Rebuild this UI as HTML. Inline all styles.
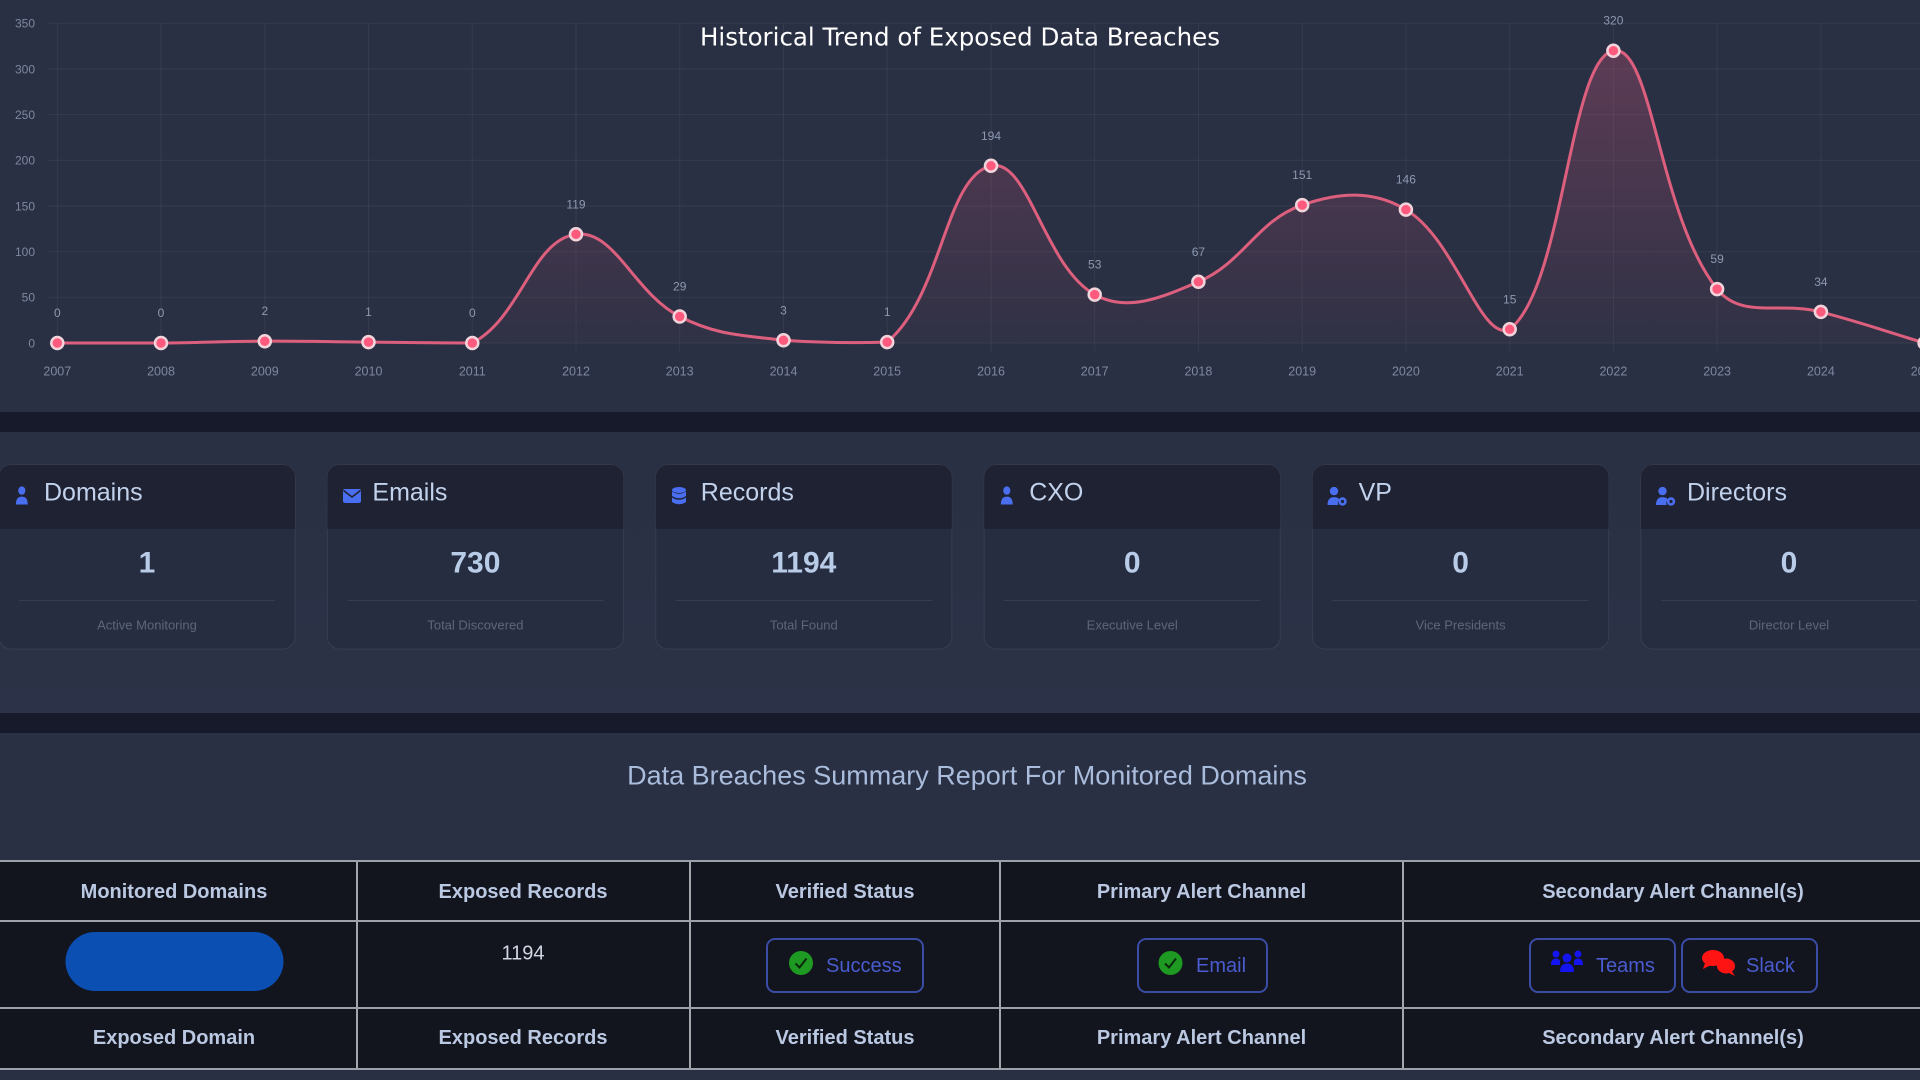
<!DOCTYPE html>
<html>
<head>
<meta charset="utf-8">
<style>
html,body{margin:0;padding:0;width:1920px;height:1080px;overflow:hidden;background:#2a3043;}
svg{display:block;}
text{font-family:"Liberation Sans",Arial,sans-serif;}
</style>
</head>
<body>
<svg width="1920" height="1080" viewBox="0 0 1920 1080" xmlns="http://www.w3.org/2000/svg">
<defs>
<linearGradient id="fillg" x1="0" y1="23" x2="0" y2="343" gradientUnits="userSpaceOnUse">
<stop offset="0" stop-color="#e05a84" stop-opacity="0.30"/>
<stop offset="1" stop-color="#e05a84" stop-opacity="0.03"/>
</linearGradient>
<linearGradient id="secg" x1="0" y1="432" x2="0" y2="713" gradientUnits="userSpaceOnUse">
<stop offset="0" stop-color="#2a3043"/>
<stop offset="1" stop-color="#2c3247"/>
</linearGradient>
<g id="user"><circle cx="8" cy="4.6" r="4.2"/><path d="M1 18.5 C1 12.8 3.8 10.6 8 10.6 C12.2 10.6 15 12.8 15 18.5 Z"/></g>
<g id="usercog"><circle cx="7" cy="4.6" r="4.2"/><path d="M0.5 18.5 C0.5 12.8 3.2 10.6 7 10.6 C9.5 10.6 11.3 11.3 12.3 12.8 C11 13.8 10.5 16 11.2 18.5 Z"/><circle cx="15.5" cy="15" r="4.2"/><circle cx="15.5" cy="15" r="1.6" fill="#1e2232"/></g>
</defs>

<!-- Chart section -->
<rect x="0" y="0" width="1920" height="412" fill="#2a3043"/>
<g stroke="#ffffff" stroke-opacity="0.055" stroke-width="1">
<line x1="47" y1="343" x2="1920" y2="343"/>
<line x1="47" y1="297.3" x2="1920" y2="297.3"/>
<line x1="47" y1="251.7" x2="1920" y2="251.7"/>
<line x1="47" y1="206" x2="1920" y2="206"/>
<line x1="47" y1="160.3" x2="1920" y2="160.3"/>
<line x1="47" y1="114.6" x2="1920" y2="114.6"/>
<line x1="47" y1="69" x2="1920" y2="69"/>
<line x1="47" y1="23.3" x2="1920" y2="23.3"/>
<line x1="57.3" y1="23.3" x2="57.3" y2="351"/>
<line x1="161" y1="23.3" x2="161" y2="351"/>
<line x1="264.8" y1="23.3" x2="264.8" y2="351"/>
<line x1="368.5" y1="23.3" x2="368.5" y2="351"/>
<line x1="472.3" y1="23.3" x2="472.3" y2="351"/>
<line x1="576" y1="23.3" x2="576" y2="351"/>
<line x1="679.7" y1="23.3" x2="679.7" y2="351"/>
<line x1="783.5" y1="23.3" x2="783.5" y2="351"/>
<line x1="887.2" y1="23.3" x2="887.2" y2="351"/>
<line x1="991" y1="23.3" x2="991" y2="351"/>
<line x1="1094.7" y1="23.3" x2="1094.7" y2="351"/>
<line x1="1198.4" y1="23.3" x2="1198.4" y2="351"/>
<line x1="1302.2" y1="23.3" x2="1302.2" y2="351"/>
<line x1="1405.9" y1="23.3" x2="1405.9" y2="351"/>
<line x1="1509.7" y1="23.3" x2="1509.7" y2="351"/>
<line x1="1613.4" y1="23.3" x2="1613.4" y2="351"/>
<line x1="1717.1" y1="23.3" x2="1717.1" y2="351"/>
<line x1="1820.9" y1="23.3" x2="1820.9" y2="351"/>
</g>
<g font-size="12" fill="#7d88a1" text-anchor="end">
<text x="35" y="347.3">0</text>
<text x="35" y="301.6">50</text>
<text x="35" y="256">100</text>
<text x="35" y="210.3">150</text>
<text x="35" y="164.6">200</text>
<text x="35" y="118.9">250</text>
<text x="35" y="73.3">300</text>
<text x="35" y="27.6">350</text>
</g>
<g font-size="12.5" fill="#7d88a1" text-anchor="middle">
<text x="57.3" y="375.5">2007</text>
<text x="161" y="375.5">2008</text>
<text x="264.8" y="375.5">2009</text>
<text x="368.5" y="375.5">2010</text>
<text x="472.3" y="375.5">2011</text>
<text x="576" y="375.5">2012</text>
<text x="679.7" y="375.5">2013</text>
<text x="783.5" y="375.5">2014</text>
<text x="887.2" y="375.5">2015</text>
<text x="991" y="375.5">2016</text>
<text x="1094.7" y="375.5">2017</text>
<text x="1198.4" y="375.5">2018</text>
<text x="1302.2" y="375.5">2019</text>
<text x="1405.9" y="375.5">2020</text>
<text x="1509.7" y="375.5">2021</text>
<text x="1613.4" y="375.5">2022</text>
<text x="1717.1" y="375.5">2023</text>
<text x="1820.9" y="375.5">2024</text>
<text x="1924.6" y="375.5">2025</text>
</g>

<path id="ar" d="M57.3,343 L161,343 L264.8,341.2 L368.5,342.1 L472.3,343 L576,234.3 L679.7,316.5 L783.5,340.3 L887.2,342.1 L991,165.8 L1094.7,294.6 L1198.4,281.8 L1302.2,205.1 L1405.9,209.6 L1509.7,329.3 L1613.4,50.7 L1717.1,289.1 L1820.9,311.9 L1924.6,343 Z" fill="url(#fillg)"/>
<path id="ln" d="M57.3,343 L161,343 L264.8,341.2 L368.5,342.1 L472.3,343 L576,234.3 L679.7,316.5 L783.5,340.3 L887.2,342.1 L991,165.8 L1094.7,294.6 L1198.4,281.8 L1302.2,205.1 L1405.9,209.6 L1509.7,329.3 L1613.4,50.7 L1717.1,289.1 L1820.9,311.9 L1924.6,343" fill="none" stroke="#dc5f7e" stroke-width="3"/>

<g fill="#ff5a7e" stroke="#f2d5dc" stroke-width="2.5">
<circle cx="57.3" cy="343" r="6"/>
<circle cx="161" cy="343" r="6"/>
<circle cx="264.8" cy="341.2" r="6"/>
<circle cx="368.5" cy="342.1" r="6"/>
<circle cx="472.3" cy="343" r="6"/>
<circle cx="576" cy="234.3" r="6"/>
<circle cx="679.7" cy="316.5" r="6"/>
<circle cx="783.5" cy="340.3" r="6"/>
<circle cx="887.2" cy="342.1" r="6"/>
<circle cx="991" cy="165.8" r="6"/>
<circle cx="1094.7" cy="294.6" r="6"/>
<circle cx="1198.4" cy="281.8" r="6"/>
<circle cx="1302.2" cy="205.1" r="6"/>
<circle cx="1405.9" cy="209.6" r="6"/>
<circle cx="1509.7" cy="329.3" r="6"/>
<circle cx="1613.4" cy="50.7" r="6"/>
<circle cx="1717.1" cy="289.1" r="6"/>
<circle cx="1820.9" cy="311.9" r="6"/>
<circle cx="1924.6" cy="343" r="6"/>
</g>
<g font-size="12" fill="#8d99b2" text-anchor="middle">
<text x="57.3" y="317">0</text>
<text x="161" y="317">0</text>
<text x="264.8" y="315.2">2</text>
<text x="368.5" y="316.1">1</text>
<text x="472.3" y="317">0</text>
<text x="576" y="208.3">119</text>
<text x="679.7" y="290.5">29</text>
<text x="783.5" y="314.3">3</text>
<text x="887.2" y="316.1">1</text>
<text x="991" y="139.8">194</text>
<text x="1094.7" y="268.6">53</text>
<text x="1198.4" y="255.8">67</text>
<text x="1302.2" y="179.1">151</text>
<text x="1405.9" y="183.6">146</text>
<text x="1509.7" y="303.3">15</text>
<text x="1613.4" y="24.7">320</text>
<text x="1717.1" y="263.1">59</text>
<text x="1820.9" y="285.9">34</text>
<text x="1924.6" y="317">0</text>
</g>
<text x="960" y="45.5" font-size="24.5" fill="#ffffff" text-anchor="middle" style="font-family:'DejaVu Sans','Liberation Sans',sans-serif">Historical Trend of Exposed Data Breaches</text>

<!-- dark band -->
<rect x="0" y="412" width="1920" height="20" fill="#161a2b"/>

<!-- Cards section -->
<rect x="0" y="432" width="1920" height="281" fill="url(#secg)"/>

<!-- Card 1 Domains -->
<g>
<rect x="-1" y="465" width="296" height="184" rx="12" fill="#272d40" stroke="#ffffff" stroke-opacity="0.07"/>
<rect x="-1" y="465" width="296" height="64" rx="12" fill="#1e2232"/>
<rect x="-1" y="515" width="296" height="14" fill="#1e2232"/>
<use href="#user" transform="translate(15,486) scale(0.85,1)" fill="#4a6ef0"/>
<text x="44" y="500.5" font-size="25" fill="#c3d2ec">Domains</text>
<text x="147" y="572.7" font-size="30" font-weight="bold" fill="#b8cce8" text-anchor="middle">1</text>
<line x1="19" y1="600.5" x2="275" y2="600.5" stroke="#ffffff" stroke-opacity="0.08"/>
<text x="147" y="629.6" font-size="13" fill="#5c667c" text-anchor="middle">Active Monitoring</text>
</g>
<!-- Card 2 Emails -->
<g>
<rect x="327.4" y="465" width="296" height="184" rx="12" fill="#272d40" stroke="#ffffff" stroke-opacity="0.07"/>
<rect x="327.4" y="465" width="296" height="64" rx="12" fill="#1e2232"/>
<rect x="327.4" y="515" width="296" height="14" fill="#1e2232"/>
<g transform="translate(343,489)">
<rect x="0" y="0" width="18" height="14" rx="2" fill="#4a6ef0"/>
<polyline points="0.5,1.5 9,8 17.5,1.5" fill="none" stroke="#1e2232" stroke-width="1.6"/>
</g>
<text x="372.4" y="500.5" font-size="25" fill="#c3d2ec">Emails</text>
<text x="475.4" y="572.7" font-size="30" font-weight="bold" fill="#b8cce8" text-anchor="middle">730</text>
<line x1="347.4" y1="600.5" x2="603.4" y2="600.5" stroke="#ffffff" stroke-opacity="0.08"/>
<text x="475.4" y="629.6" font-size="13" fill="#5c667c" text-anchor="middle">Total Discovered</text>
</g>
<!-- Card 3 Records -->
<g>
<rect x="655.8" y="465" width="296" height="184" rx="12" fill="#272d40" stroke="#ffffff" stroke-opacity="0.07"/>
<rect x="655.8" y="465" width="296" height="64" rx="12" fill="#1e2232"/>
<rect x="655.8" y="515" width="296" height="14" fill="#1e2232"/>
<g transform="translate(672,487)" fill="#4a6ef0">
<ellipse cx="7" cy="3" rx="7" ry="3"/>
<path d="M0 4.5 Q7 9 14 4.5 V9 Q7 13.5 0 9 Z"/>
<path d="M0 10.5 Q7 15 14 10.5 V15 Q7 19.5 0 15 Z"/>
</g>
<text x="700.8" y="500.5" font-size="25" fill="#c3d2ec">Records</text>
<text x="803.8" y="572.7" font-size="30" font-weight="bold" fill="#b8cce8" text-anchor="middle">1194</text>
<line x1="675.8" y1="600.5" x2="931.8" y2="600.5" stroke="#ffffff" stroke-opacity="0.08"/>
<text x="803.8" y="629.6" font-size="13" fill="#5c667c" text-anchor="middle">Total Found</text>
</g>
<!-- Card 4 CXO -->
<g>
<rect x="984.2" y="465" width="296" height="184" rx="12" fill="#272d40" stroke="#ffffff" stroke-opacity="0.07"/>
<rect x="984.2" y="465" width="296" height="64" rx="12" fill="#1e2232"/>
<rect x="984.2" y="515" width="296" height="14" fill="#1e2232"/>
<use href="#user" transform="translate(1000,486) scale(0.85,1)" fill="#4a6ef0"/>
<text x="1029.2" y="500.5" font-size="25" fill="#c3d2ec">CXO</text>
<text x="1132.2" y="572.7" font-size="30" font-weight="bold" fill="#b8cce8" text-anchor="middle">0</text>
<line x1="1004.2" y1="600.5" x2="1260.2" y2="600.5" stroke="#ffffff" stroke-opacity="0.08"/>
<text x="1132.2" y="629.6" font-size="13" fill="#5c667c" text-anchor="middle">Executive Level</text>
</g>
<!-- Card 5 VP -->
<g>
<rect x="1312.6" y="465" width="296" height="184" rx="12" fill="#272d40" stroke="#ffffff" stroke-opacity="0.07"/>
<rect x="1312.6" y="465" width="296" height="64" rx="12" fill="#1e2232"/>
<rect x="1312.6" y="515" width="296" height="14" fill="#1e2232"/>
<use href="#usercog" transform="translate(1327,486.5)" fill="#4a6ef0"/>
<text x="1358.6" y="500.5" font-size="25" fill="#c3d2ec">VP</text>
<text x="1460.6" y="572.7" font-size="30" font-weight="bold" fill="#b8cce8" text-anchor="middle">0</text>
<line x1="1332.6" y1="600.5" x2="1588.6" y2="600.5" stroke="#ffffff" stroke-opacity="0.08"/>
<text x="1460.6" y="629.6" font-size="13" fill="#5c667c" text-anchor="middle">Vice Presidents</text>
</g>
<!-- Card 6 Directors -->
<g>
<rect x="1641" y="465" width="296" height="184" rx="12" fill="#272d40" stroke="#ffffff" stroke-opacity="0.07"/>
<rect x="1641" y="465" width="296" height="64" rx="12" fill="#1e2232"/>
<rect x="1641" y="515" width="296" height="14" fill="#1e2232"/>
<use href="#usercog" transform="translate(1655.5,486.5)" fill="#4a6ef0"/>
<text x="1687" y="500.5" font-size="25" fill="#c3d2ec">Directors</text>
<text x="1789" y="572.7" font-size="30" font-weight="bold" fill="#b8cce8" text-anchor="middle">0</text>
<line x1="1661" y1="600.5" x2="1917" y2="600.5" stroke="#ffffff" stroke-opacity="0.08"/>
<text x="1789" y="629.6" font-size="13" fill="#5c667c" text-anchor="middle">Director Level</text>
</g>

<!-- dark band 2 -->
<rect x="0" y="713" width="1920" height="20" fill="#161a2b"/>

<!-- Summary section -->
<rect x="0" y="733" width="1920" height="347" fill="#2a3043"/>
<text x="967" y="784.7" font-size="27" fill="#a9bcdc" text-anchor="middle">Data Breaches Summary Report For Monitored Domains</text>

<!-- Table -->
<rect x="0" y="860" width="1920" height="209" fill="#12141e"/>
<g stroke="#d4d6da" stroke-width="1.5">
<line x1="357" y1="860" x2="357" y2="1069"/>
<line x1="690" y1="860" x2="690" y2="1069"/>
<line x1="1000" y1="860" x2="1000" y2="1069"/>
<line x1="1403" y1="860" x2="1403" y2="1069"/>
</g>
<g stroke="#9da1aa" stroke-width="2">
<line x1="0" y1="861" x2="1920" y2="861"/>
<line x1="0" y1="921" x2="1920" y2="921"/>
<line x1="0" y1="1008" x2="1920" y2="1008"/>
<line x1="0" y1="1069" x2="1920" y2="1069"/>
</g>
<g font-size="20" font-weight="bold" fill="#bac8e2" text-anchor="middle">
<text x="174" y="898">Monitored Domains</text>
<text x="523" y="898">Exposed Records</text>
<text x="845" y="898">Verified Status</text>
<text x="1201.5" y="898">Primary Alert Channel</text>
<text x="1673" y="898">Secondary Alert Channel(s)</text>
<text x="174" y="1044">Exposed Domain</text>
<text x="523" y="1044">Exposed Records</text>
<text x="845" y="1044">Verified Status</text>
<text x="1201.5" y="1044">Primary Alert Channel</text>
<text x="1673" y="1044">Secondary Alert Channel(s)</text>
</g>
<rect x="65.5" y="932" width="218" height="59" rx="29.5" fill="#0b4fb3"/>
<text x="523" y="959.3" font-size="20" fill="#d0d6e2" text-anchor="middle">1194</text>

<!-- Success -->
<rect x="767" y="939" width="156" height="53" rx="8" fill="none" stroke="#3a4ca3" stroke-width="2"/>
<circle cx="801" cy="963" r="12" fill="#1e9a22"/>
<polyline points="795.5,963.5 799.5,967.5 806.5,958.5" fill="none" stroke="#0b2a0c" stroke-width="2"/>
<text x="826" y="972" font-size="20" fill="#4a5cd0">Success</text>

<!-- Email -->
<rect x="1138" y="939" width="129" height="53" rx="8" fill="none" stroke="#3a4ca3" stroke-width="2"/>
<circle cx="1170.5" cy="963" r="12" fill="#1e9a22"/>
<polyline points="1165,963.5 1169,967.5 1176,958.5" fill="none" stroke="#0b2a0c" stroke-width="2"/>
<text x="1196" y="972" font-size="20" fill="#4a5cd0">Email</text>

<!-- Teams -->
<rect x="1530" y="939" width="145" height="53" rx="8" fill="none" stroke="#3a4ca3" stroke-width="2"/>
<g fill="#1414f0" transform="translate(1551,950)">
<circle cx="5" cy="4" r="3.5"/>
<circle cx="27" cy="4" r="3.5"/>
<circle cx="16" cy="8" r="4.5"/>
<path d="M0 15 C0 10 2 8.5 5 8.5 C8 8.5 9 10 9 12 L9 15 Z"/>
<path d="M23 12 C23 10 24 8.5 27 8.5 C30 8.5 32 10 32 15 L23 15 Z"/>
<path d="M9 22 C9 15.5 12 13.5 16 13.5 C20 13.5 23 15.5 23 22 Z"/>
</g>
<text x="1596" y="972" font-size="20" fill="#4a5cd0">Teams</text>

<!-- Slack -->
<rect x="1682" y="939" width="135" height="53" rx="8" fill="none" stroke="#3a4ca3" stroke-width="2"/>
<g fill="#ff1414" transform="translate(1702,950)">
<ellipse cx="11" cy="8" rx="11" ry="8"/>
<path d="M3 13 L1 19 L9 15 Z"/>
<ellipse cx="24" cy="16" rx="9" ry="7.5"/>
<path d="M29 20 L33 26 L25 22 Z"/>
</g>
<text x="1746" y="972" font-size="20" fill="#4a5cd0">Slack</text>
</svg>

<script>
(function(){
var v=[0,0,2,1,0,119,29,3,1,194,53,67,151,146,15,320,59,34,0];
var P=v.map(function(d,i){return {x:57.3+i*103.74,y:343-d*0.9134};});
var t=0.4,top=23.3,bot=343,i;
for(i=0;i<P.length;i++){
 var p=P[i],a=P[i-1]||p,n=P[i+1]||p;
 var d01=Math.sqrt((p.x-a.x)*(p.x-a.x)+(p.y-a.y)*(p.y-a.y));
 var d12=Math.sqrt((n.x-p.x)*(n.x-p.x)+(n.y-p.y)*(n.y-p.y));
 var s01=d01/(d01+d12),s12=d12/(d01+d12);
 if(isNaN(s01))s01=0; if(isNaN(s12))s12=0;
 var fa=t*s01,fb=t*s12;
 p.px=p.x-fa*(n.x-a.x); p.py=p.y-fa*(n.y-a.y);
 p.nx=p.x+fb*(n.x-a.x); p.ny=p.y+fb*(n.y-a.y);
 p.py=Math.min(Math.max(p.py,top),bot); p.ny=Math.min(Math.max(p.ny,top),bot);
}
var d='M'+P[0].x.toFixed(2)+','+P[0].y.toFixed(2);
for(i=1;i<P.length;i++){
 d+=' C'+P[i-1].nx.toFixed(2)+','+P[i-1].ny.toFixed(2)+' '+P[i].px.toFixed(2)+','+P[i].py.toFixed(2)+' '+P[i].x.toFixed(2)+','+P[i].y.toFixed(2);
}
document.getElementById('ln').setAttribute('d',d);
document.getElementById('ar').setAttribute('d',d+' L'+P[P.length-1].x.toFixed(2)+','+bot+' L'+P[0].x.toFixed(2)+','+bot+' Z');
})();
</script>
</body>
</html>
